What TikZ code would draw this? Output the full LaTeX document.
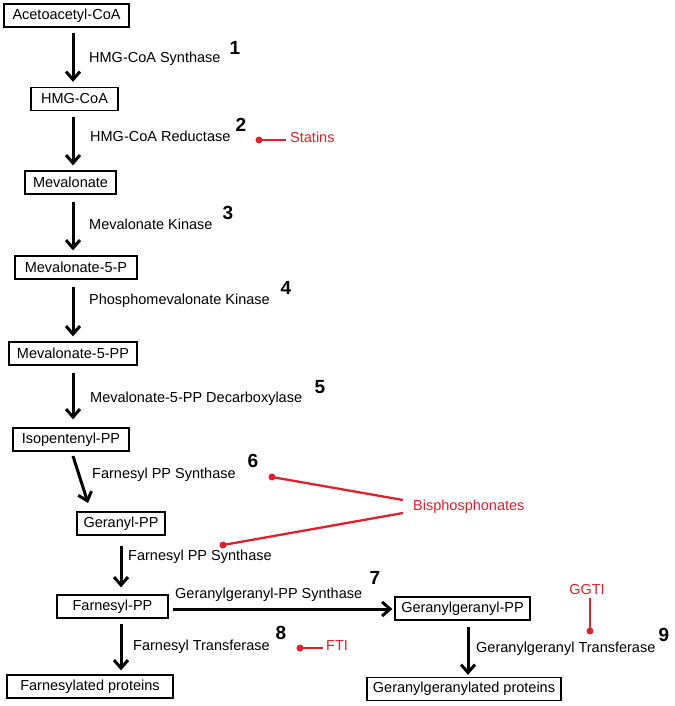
\documentclass[tikz,border=0pt]{standalone}
\usepackage{fontspec}
\setmainfont{Liberation Sans}
\usetikzlibrary{arrows.meta}
\definecolor{inhib}{RGB}{226,32,44}
\begin{document}
\begin{tikzpicture}[x=1pt,y=-1pt,
  box/.style={draw, line width=1.3pt, inner sep=0pt, minimum height=23pt, font=\fontsize{14.5}{17}\selectfont},
  lbl/.style={anchor=mid west, inner sep=0pt, font=\fontsize{14.5}{17}\selectfont},
  num/.style={inner sep=0pt, font=\fontsize{19}{21}\selectfont\bfseries},
  arr/.style={line width=3pt, -{Straight Barb[length=8pt,width=14pt,line width=3pt]}},
  red/.style={inhib, line width=2.3pt},
  rtxt/.style={text=inhib, anchor=mid west, inner sep=0pt, font=\fontsize{14.5}{17}\selectfont},
  dot/.style={circle, fill=inhib, inner sep=0pt, minimum size=7pt}
]
\useasboundingbox (0,0) rectangle (674,706);

% boxes
\node[box, minimum width=125pt] (acac)   at (66.5,15.5) {Acetoacetyl-CoA};
\node[box, minimum width=87pt]  (hmg)    at (74.5,99)   {HMG-CoA};
\node[box, minimum width=91pt]  (mev)    at (70.5,182.5) {Mevalonate};
\node[box, minimum width=122pt] (mevp)   at (76,267.5)  {Mevalonate-5-P};
\node[box, minimum width=128pt] (mevpp)  at (73,353.5)  {Mevalonate-5-PP};
\node[box, minimum width=116pt] (ipp)    at (71,439.5)  {Isopentenyl-PP};
\node[box, minimum width=88pt]  (gpp)    at (121,523.5) {Geranyl-PP};
\node[box, minimum width=111pt] (fpp)    at (112.5,606.5) {Farnesyl-PP};
\node[box, minimum width=135pt] (ggpp)   at (462.5,608.5) {Geranylgeranyl-PP};
\node[box, minimum width=166pt] (fprot)  at (90,686.5)  {Farnesylated proteins};
\node[box, minimum width=194pt] (ggprot) at (464,689)   {Geranylgeranylated proteins};

% axis coordinates for arrows
\coordinate (xa) at (73,0);
\coordinate (xb) at (121,0);
\coordinate (xc) at (468,0);
\coordinate (yh) at (0,609);
\coordinate (s6) at (73,456);
\coordinate (e6) at (88,503);

% main arrows
\draw[arr, shorten <=5pt, shorten >=5pt] (acac.south -| xa) -- (hmg.north -| xa);
\draw[arr, shorten <=6pt, shorten >=5pt] (hmg.south -| xa) -- (mev.north -| xa);
\draw[arr, shorten <=7pt, shorten >=5pt] (mev.south -| xa) -- (mevp.north -| xa);
\draw[arr, shorten <=7pt, shorten >=5pt] (mevp.south -| xa) -- (mevpp.north -| xa);
\draw[arr, shorten <=7pt, shorten >=8pt] (mevpp.south -| xa) -- (ipp.north -| xa);
\draw[arr] (s6) -- (e6);
\draw[arr, shorten <=10pt, shorten >=7pt] (gpp.south -| xb) -- (fpp.north -| xb);
\draw[arr, shorten <=4pt, shorten >=2pt] (fpp.east |- yh) -- (ggpp.west |- yh);
\draw[arr, shorten <=5pt, shorten >=4pt] (fpp.south -| xb) -- (fprot.north -| xb);
\draw[arr, shorten <=6pt, shorten >=2pt] (ggpp.south -| xc) -- (ggprot.north -| xc);

% enzyme labels
\node[lbl] (l1) at (89,60)  {HMG-CoA Synthase};
\node[lbl] (l2) at (90,139) {HMG-CoA Reductase};
\node[lbl] (l3) at (89,227) {Mevalonate Kinase};
\node[lbl] (l4) at (89,302) {Phosphomevalonate Kinase};
\node[lbl] (l5) at (90,400) {Mevalonate-5-PP Decarboxylase};
\node[lbl] (l6) at (92,476) {Farnesyl PP Synthase};
\node[lbl] (l6b) at (128,558) {Farnesyl PP Synthase};
\node[lbl] (l7) at (175,596) {Geranylgeranyl-PP Synthase};
\node[lbl] (l8) at (133,648) {Farnesyl Transferase};
\node[lbl] (l9) at (476,650) {Geranylgeranyl Transferase};

% numbers
\node[num] (n1) at (235,48)  {1};
\node[num] (n2) at (241,125) {2};
\node[num] (n3) at (228,213) {3};
\node[num] (n4) at (286,288) {4};
\node[num] (n5) at (320,387) {5};
\node[num] (n6) at (253,461) {6};
\node[num] (n7) at (375,578) {7};
\node[num] (n8) at (281,633) {8};
\node[num] (n9) at (664,635) {9};

% inhibitors
\node[rtxt] (statins) at (290,140) {Statins};
\node[dot] (d2) at (259,140) {};
\draw[red] (d2.center) -- ++(27,0) coordinate (e2);

\node[rtxt] (bis) at (413,508) {Bisphosphonates};
\coordinate (bisA) at (403,500);
\coordinate (bisB) at (403,513);
\node[dot] (d6) at (272,477) {};
\node[dot] (d6b) at (223,545) {};
\draw[red] (d6.center) -- (bisA);
\draw[red] (bisB) -- (d6b.center);

\node[rtxt] (fti) at (326,648) {FTI};
\node[dot] (d8) at (300,648) {};
\draw[red] (d8.center) -- ++(23,0) coordinate (e8);

\node[text=inhib, inner sep=0pt, font=\fontsize{14.5}{17}\selectfont] (ggti) at (587,590) {GGTI};
\node[dot] (d9) at (590,631) {};
\draw[red] (ggti.south -| d9) ++(0,3) -- (d9.center);
\end{tikzpicture}
\end{document}
